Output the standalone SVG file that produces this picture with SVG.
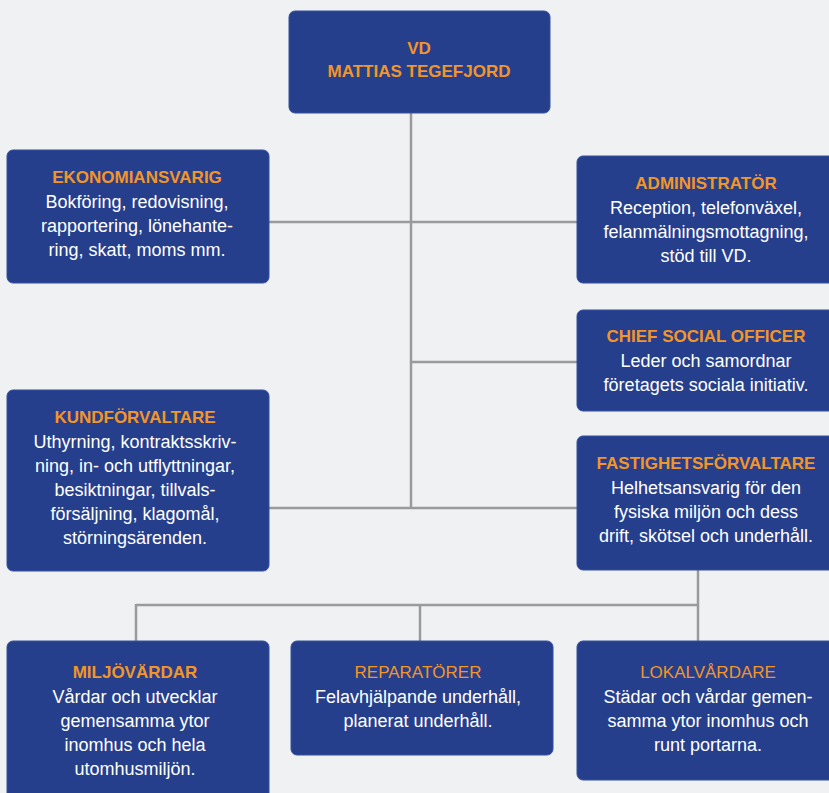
<svg xmlns="http://www.w3.org/2000/svg" width="829" height="793" viewBox="0 0 829 793">
<style>
.box{fill:#263f8c;stroke:#34509c;stroke-width:1}
.t{font-family:"Liberation Sans",Arial,sans-serif;font-size:17px;font-weight:bold;fill:#f39527;text-anchor:middle}
.tn{font-weight:normal}
.b{font-family:"Liberation Sans",Arial,sans-serif;font-size:18px;fill:#ffffff;text-anchor:middle}
.ln{stroke:#9a9a9a;stroke-width:2.5;fill:none}
</style>
<rect width="829" height="793" fill="#eff1f3"/>
<g id="connectors">
<path class="ln" d="M411 113V508M269 222H577M411 362H577M269 508H577"/>
<path class="ln" d="M698 570V641M136 605H698M136 604V641M420 604V641"/>
</g>
<g id="vd">
<rect class="box" x="289" y="11" width="261" height="102" rx="6"/>
<text class="t" x="419" y="54">VD</text>
<text class="t" x="419" y="77">MATTIAS TEGEFJORD</text>
</g>
<g id="ekonomi">
<rect class="box" x="7" y="150" width="262" height="133" rx="6"/>
<text class="t" x="137" y="183">EKONOMIANSVARIG</text>
<text class="b" x="137" y="208">Bokföring, redovisning,</text>
<text class="b" x="137" y="232">rapportering, lönehante-</text>
<text class="b" x="137" y="256">ring, skatt, moms mm.</text>
</g>
<g id="admin">
<rect class="box" x="577" y="156" width="265" height="127" rx="6"/>
<text class="t" x="706" y="189">ADMINISTRATÖR</text>
<text class="b" x="706" y="214">Reception, telefonväxel,</text>
<text class="b" x="706" y="238">felanmälningsmottagning,</text>
<text class="b" x="706" y="262">stöd till VD.</text>
</g>
<g id="cso">
<rect class="box" x="577" y="310" width="265" height="101" rx="6"/>
<text class="t" x="706" y="342">CHIEF SOCIAL OFFICER</text>
<text class="b" x="706" y="367">Leder och samordnar</text>
<text class="b" x="706" y="391">företagets sociala initiativ.</text>
</g>
<g id="kund">
<rect class="box" x="7" y="390" width="262" height="181" rx="6"/>
<text class="t" x="135" y="423">KUNDFÖRVALTARE</text>
<text class="b" x="135" y="448">Uthyrning, kontraktsskriv-</text>
<text class="b" x="135" y="472">ning, in- och utflyttningar,</text>
<text class="b" x="135" y="496">besiktningar, tillvals-</text>
<text class="b" x="135" y="520">försäljning, klagomål,</text>
<text class="b" x="135" y="544">störningsärenden.</text>
</g>
<g id="fastighet">
<rect class="box" x="577" y="436" width="265" height="134" rx="6"/>
<text class="t" x="706" y="469">FASTIGHETSFÖRVALTARE</text>
<text class="b" x="706" y="494">Helhetsansvarig för den</text>
<text class="b" x="706" y="518">fysiska miljön och dess</text>
<text class="b" x="706" y="542">drift, skötsel och underhåll.</text>
</g>
<g id="miljo">
<rect class="box" x="7" y="641" width="262" height="160" rx="6"/>
<text class="t" x="135" y="678">MILJÖVÄRDAR</text>
<text class="b" x="135" y="703">Vårdar och utvecklar</text>
<text class="b" x="135" y="727">gemensamma ytor</text>
<text class="b" x="135" y="751">inomhus och hela</text>
<text class="b" x="135" y="775">utomhusmiljön.</text>
</g>
<g id="reparatorer">
<rect class="box" x="291" y="641" width="262" height="114" rx="6"/>
<text class="t tn" x="418" y="678">REPARATÖRER</text>
<text class="b" x="418" y="703">Felavhjälpande underhåll,</text>
<text class="b" x="418" y="727">planerat underhåll.</text>
</g>
<g id="lokal">
<rect class="box" x="577" y="641" width="265" height="139" rx="6"/>
<text class="t tn" x="708" y="678">LOKALVÅRDARE</text>
<text class="b" x="708" y="703">Städar och vårdar gemen-</text>
<text class="b" x="708" y="727">samma ytor inomhus och</text>
<text class="b" x="708" y="751">runt portarna.</text>
</g>
</svg>
